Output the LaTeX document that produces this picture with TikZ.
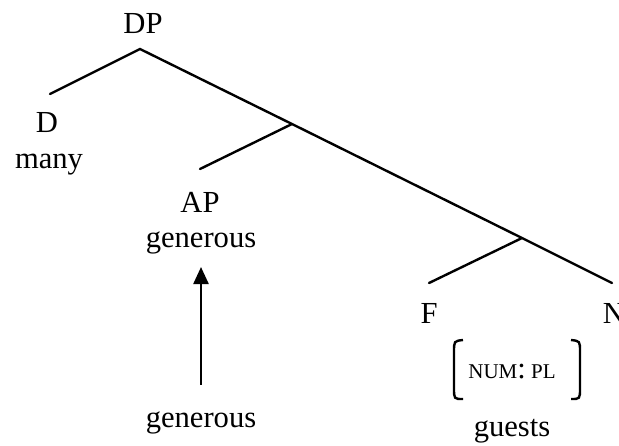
\documentclass[tikz,border=0pt]{standalone}
\usepackage{fontspec}
\setmainfont{Liberation Serif}
\usetikzlibrary{arrows.meta}

\begin{document}
\begin{tikzpicture}[x=0.5pt,y=-0.5pt,
	branch/.style={line width=1.2pt,line cap=round},
	lbl/.style={inner sep=0pt,anchor=base,font=\fontsize{15.3}{18}\selectfont},
	feat/.style={inner sep=0pt,anchor=base,font=\fontsize{10.5}{12}\selectfont}]
		\useasboundingbox (0,0) rectangle (619,445);
		% tree points
		\coordinate (dp) at (140,49);
		\coordinate (dend) at (50,94);
		\coordinate (jap) at (292,124);
		\coordinate (apend) at (200,169);
		\coordinate (jf) at (522,238);
		\coordinate (fend) at (429,283);
		\coordinate (nend) at (612,283);
		% labels
		\node[lbl] (DP) at (143,33) {DP};
		\node[lbl] (D) at (47,132) {D};
		\node[lbl] (many) at (49,168) {many};
		\node[lbl] (AP) at (200,212) {AP};
		\node[lbl] (gentop) at (201,247) {generous};
		\node[lbl] (F) at (429,323) {F};
		\node[lbl] (N) at (614,323) {N};
		\node[lbl] (genlow) at (201,427) {generous};
		\node[feat] (num) at (512,378) {NUM{\fontsize{15.3}{18}\selectfont:} PL};
		\node[lbl] (guests) at (512,436) {guests};
		% branches
		\draw[branch] (dend) -- (dp) -- (jap) -- (jf) -- (nend);
		\draw[branch] (apend) -- (jap);
		\draw[branch] (fend) -- (jf);
		% movement arrow
		\draw[line width=1.2pt,-{Triangle[width=7.5pt,length=8.5pt]},shorten <=13pt,shorten >=6.5pt] (genlow.north) -- (gentop.south);
		% feature brackets
		\draw[line width=1.2pt] (463,340) .. controls (454,341) .. (454,352) -- (454,388) .. controls (454,399) .. (463,399);
		\draw[line width=1.2pt] (571,340) .. controls (580,341) .. (580,352) -- (580,388) .. controls (580,399) .. (571,399);
	\end{tikzpicture}
\end{document}
